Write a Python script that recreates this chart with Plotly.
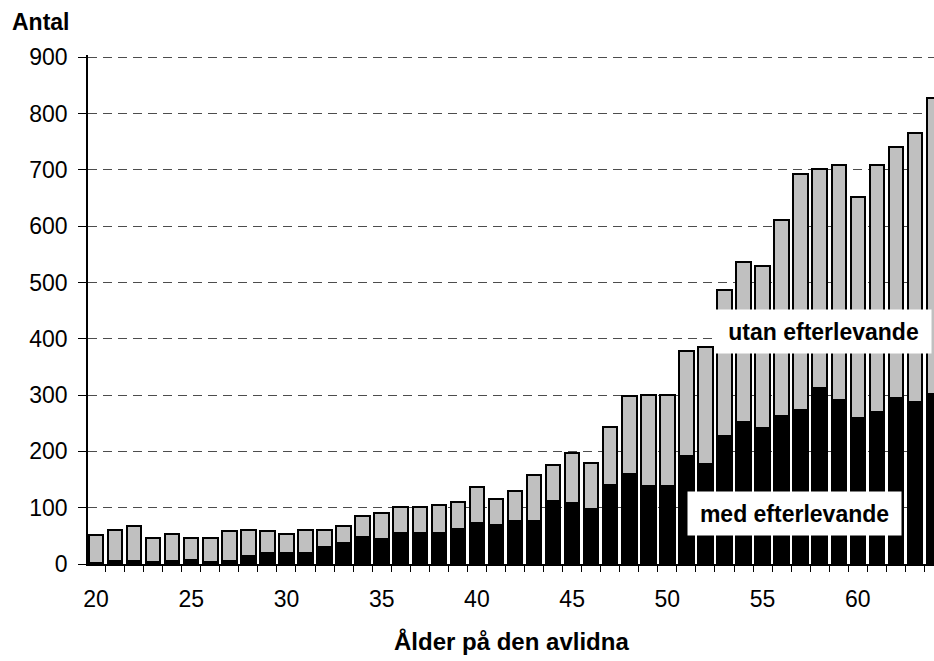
import plotly.graph_objects as go

ages = list(range(20, 65))
totals = [51, 61, 68, 47, 54, 47, 47, 58, 61, 58, 54, 61, 61, 68, 86, 90,
          101, 101, 104, 111, 136, 115, 129, 158, 176, 198, 179, 243, 298, 301,
          301, 379, 386, 486, 536, 529, 611, 693, 702, 708, 651, 708, 740, 766, 827]
med = [2, 5, 5, 3, 5, 8, 3, 5, 15, 19, 19, 19, 30, 37, 48, 45,
       55, 55, 55, 63, 73, 70, 77, 77, 112, 109, 98, 141, 159, 138,
       138, 191, 177, 227, 252, 241, 262, 273, 312, 291, 259, 270, 295, 288, 302]
utan = [t - m for t, m in zip(totals, med)]

x_ticks = [20, 25, 30, 35, 40, 45, 50, 55, 60]
y_ticks = [0, 100, 200, 300, 400, 500, 600, 700, 800, 900]

FONT = "Liberation Sans, Arial, sans-serif"

fig = go.Figure()
fig.add_trace(go.Bar(x=ages, y=med, name="med efterlevande",
                     marker=dict(color="#000000", line=dict(color="#000000", width=2))))
fig.add_trace(go.Bar(x=ages, y=utan, name="utan efterlevande",
                     marker=dict(color="#c0c0c0", line=dict(color="#000000", width=2))))

fig.update_layout(
    width=934, height=661,
    barmode="stack", bargap=0.24,
    showlegend=False,
    plot_bgcolor="white", paper_bgcolor="white",
    margin=dict(l=88, r=0, t=55, b=97, autoexpand=False),
    font=dict(family=FONT, color="black", size=23),
)
fig.update_xaxes(
    range=[19.58, 64.0],
    automargin=False,
    tickvals=x_ticks, ticktext=[str(v) for v in x_ticks],
    ticks="outside", ticklen=14, tickcolor="rgba(0,0,0,0)",
    minor=dict(tick0=19.5, dtick=1, ticks="outside", ticklen=6, tickcolor="black", tickwidth=1),
    showline=True, linecolor="black", linewidth=1.5,
    showgrid=False, zeroline=False,
    tickfont=dict(size=23),
)
fig.update_yaxes(
    range=[0, 904],
    automargin=False,
    tickvals=y_ticks,
    ticks="outside", ticklen=8, tickcolor="black", tickwidth=1,
    ticklabelstandoff=6,
    showline=True, linecolor="black", linewidth=1.5,
    showgrid=True, gridcolor="#4d4d4d", griddash="9px,6px", gridwidth=1,
    zeroline=False,
    tickfont=dict(size=23),
)

fig.add_annotation(text="<b>Antal</b>", xref="paper", yref="paper",
                   x=-78/846, y=1 + 33/509, xanchor="left", yanchor="middle",
                   showarrow=False, font=dict(size=23))
fig.add_annotation(text="<b>Ålder på den avlidna</b>", xref="paper", yref="paper",
                   x=0.5, y=-77/509, xanchor="center", yanchor="middle",
                   showarrow=False, font=dict(size=24))
fig.add_annotation(text="<b>utan efterlevande</b>", xref="x", yref="y",
                   x=58.19, y=412.7, showarrow=False,
                   bgcolor="white", borderpad=10, width=195, height=23,
                   font=dict(size=23))
fig.add_annotation(text="<b>med efterlevande</b>", xref="x", yref="y",
                   x=56.67, y=89.6, showarrow=False,
                   bgcolor="white", borderpad=10, width=193, height=23,
                   font=dict(size=23))

fig.write_html("out.html",
               config={"displayModeBar": False},
               post_script="document.body.style.margin='0';document.body.style.overflow='hidden';")
